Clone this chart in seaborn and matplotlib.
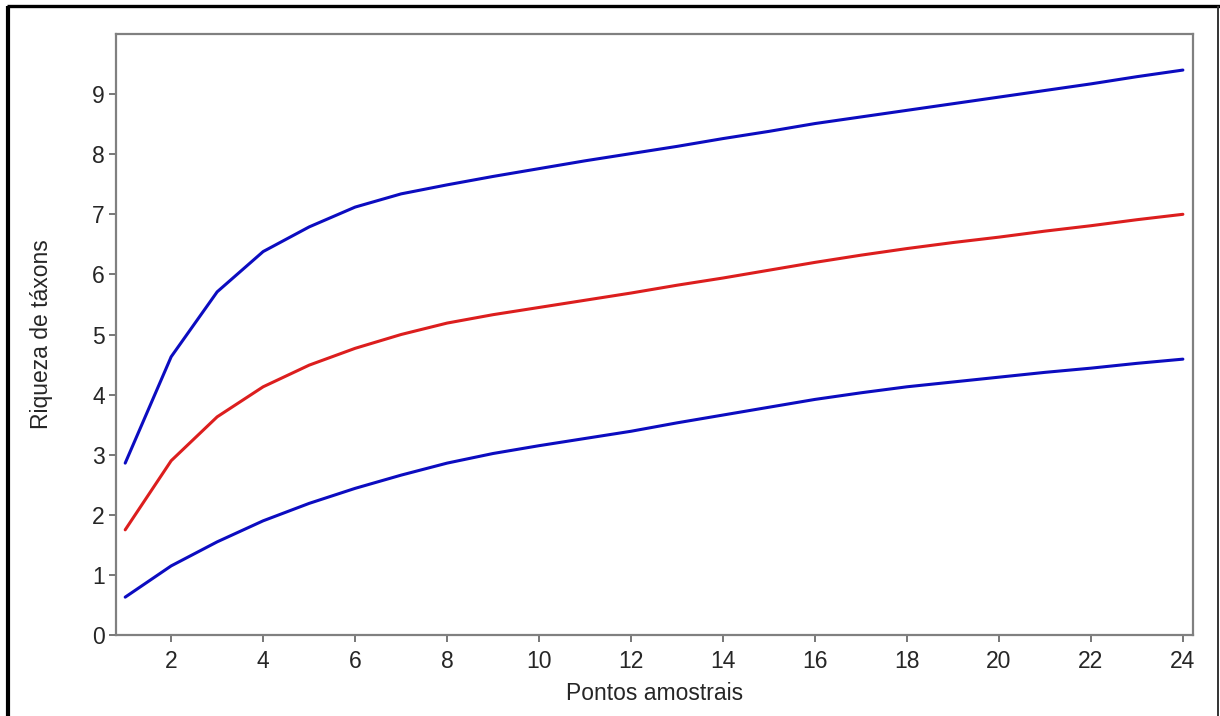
import numpy as np
import pandas as pd
import matplotlib
matplotlib.use("Agg")
import matplotlib.pyplot as plt
from matplotlib.lines import Line2D
import seaborn as sns

# ---- data ----
pontos = list(range(1, 25))
limite_superior = [2.86, 4.63, 5.71, 6.38, 6.79, 7.12, 7.34, 7.49, 7.63, 7.76, 7.89, 8.01,
                   8.13, 8.26, 8.38, 8.51, 8.62, 8.73, 8.84, 8.95, 9.06, 9.17, 9.29, 9.40]
riqueza_media = [1.75, 2.90, 3.63, 4.13, 4.49, 4.77, 5.00, 5.19, 5.33, 5.45, 5.57, 5.69,
                 5.82, 5.94, 6.07, 6.20, 6.32, 6.43, 6.53, 6.62, 6.72, 6.81, 6.91, 7.00]
limite_inferior = [0.63, 1.15, 1.55, 1.90, 2.19, 2.44, 2.66, 2.86, 3.02, 3.15, 3.27, 3.39,
                   3.53, 3.66, 3.79, 3.92, 4.03, 4.13, 4.21, 4.29, 4.37, 4.44, 4.52, 4.59]
x_ticks = [2, 4, 6, 8, 10, 12, 14, 16, 18, 20, 22, 24]
y_ticks = [0, 1, 2, 3, 4, 5, 6, 7, 8, 9]
x_label = "Pontos amostrais"
y_label = "Riqueza de táxons"

df = pd.DataFrame({
    "x": pontos * 3,
    "y": limite_superior + riqueza_media + limite_inferior,
    "serie": ["sup"] * 24 + ["med"] * 24 + ["inf"] * 24,
})
palette = {"sup": "#0c0cc0", "med": "#dc1e1e", "inf": "#0c0cc0"}

sns.set_style("ticks")
plt.rcParams["font.family"] = ["Liberation Sans", "DejaVu Sans"]

fig = plt.figure(figsize=(12.2, 7.16), dpi=100)
ax = fig.add_axes([116 / 1220, 1 - 635 / 716, (1193 - 116) / 1220, (635 - 34) / 716])

sns.lineplot(data=df, x="x", y="y", hue="serie", palette=palette, units="serie",
             estimator=None, linewidth=2.2, legend=False, ax=ax)

ax.set_xlim(0.8, 24.22)
ax.set_ylim(0, 10)
ax.set_xticks(x_ticks)
ax.set_yticks(y_ticks)
ax.set_xlabel(x_label, fontsize=16.5, color="#262626", labelpad=6)
ax.set_ylabel(y_label, fontsize=16.5, color="#262626", labelpad=28)

for s in ax.spines.values():
    s.set_visible(True)
    s.set_color("#808080")
    s.set_linewidth(1.6)
ax.tick_params(axis="x", pad=6)
ax.tick_params(axis="y", pad=3)
ax.tick_params(axis="both", direction="out", length=5, width=1.2, color="#606060",
               labelsize=16.5, labelcolor="#262626")

# outer frame of the figure (left, top, right)
fig.add_artist(Line2D([8 / 1220, 8 / 1220], [0, 1 - 5.5 / 716], transform=fig.transFigure,
                      color="black", linewidth=3.0, solid_capstyle="butt"))
fig.add_artist(Line2D([6.5 / 1220, 1220 / 1220], [1 - 5.5 / 716, 1 - 5.5 / 716],
                      transform=fig.transFigure, color="black", linewidth=2.4,
                      solid_capstyle="butt"))
fig.add_artist(Line2D([1218 / 1220, 1218 / 1220], [0, 1 - 5.5 / 716], transform=fig.transFigure,
                      color="#333333", linewidth=1.4, solid_capstyle="butt"))

fig.savefig("out.png", dpi=100, facecolor="white")
